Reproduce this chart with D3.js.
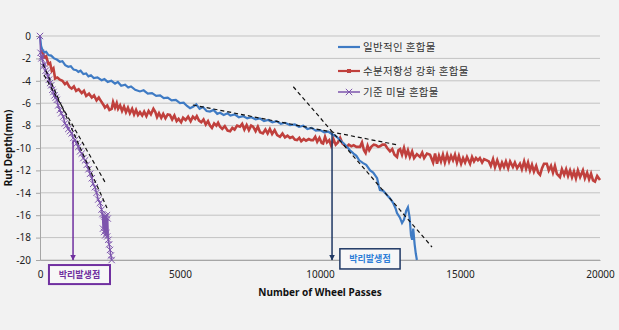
<!DOCTYPE html>
<html>
<head>
<meta charset="utf-8">
<script src="https://cdn.jsdelivr.net/npm/d3@7"></script>
<style>
  html, body { margin: 0; padding: 0; background: #f2f2f2; }
  svg { display: block; }
  text { font-family: "Noto Sans", "Noto Sans CJK KR", sans-serif; }
</style>
</head>
<body>
<svg id="chart" width="619" height="330"></svg>
<script>
// ---------- data ----------
const xTicks = [0, 5000, 10000, 15000, 20000];
const yTicks = [0, -2, -4, -6, -8, -10, -12, -14, -16, -18, -20];
const seriesNames = ["일반적인 혼합물", "수분저항성 강화 혼합물", "기준 미달 혼합물"];
const xTitle = "Number of Wheel Passes";
const yTitle = "Rut Depth(mm)";
const annotationLabel = "박리발생점";

// 일반적인 혼합물 [passes, mm]
const generalMix = [
[0,0],[40,-0.9],[80,-1.2],[150,-1.45],[220,-1.4],[300,-1.7],[400,-1.75],[500,-2.0],[600,-2.1],[710,-2.3],
[800,-2.25],[900,-2.6],[1010,-2.75],[1100,-2.7],[1200,-3.0],[1300,-3.05],[1370,-3.2],[1450,-3.1],[1550,-3.4],[1650,-3.35],
[1730,-3.6],[1820,-3.5],[1920,-3.75],[2050,-3.7],[2200,-3.95],[2300,-3.85],[2420,-4.1],[2550,-4.0],[2680,-4.25],[2780,-4.1],
[2900,-4.45],[3040,-4.35],[3150,-4.6],[3250,-4.5],[3400,-4.8],[3570,-4.95],[3700,-4.85],[3850,-5.15],[4000,-5.1],[4150,-5.35],
[4290,-5.3],[4420,-5.55],[4560,-5.5],[4700,-5.75],[4850,-5.7],[5000,-6.0],[5130,-5.95],[5250,-6.25],[5360,-6.45],[5480,-6.3],
[5580,-6.1],[5700,-6.5],[5820,-6.35],[5950,-6.7],[6070,-6.75],[6200,-6.6],[6330,-6.95],[6430,-6.85],[6560,-7.05],[6700,-6.9],
[6800,-7.1],[6950,-7.0],[7100,-7.25],[7250,-7.15],[7400,-7.35],[7550,-7.25],[7700,-7.45],[7850,-7.35],[8000,-7.6],[8150,-7.5],
[8300,-7.7],[8450,-7.6],[8600,-7.85],[8750,-7.75],[8930,-7.95],[9100,-7.9],[9250,-8.1],[9400,-8.0],[9550,-8.3],[9700,-8.2],
[9850,-8.45],[10000,-8.4],[10150,-8.6],[10300,-8.55],[10450,-8.8],[10600,-9.0],[10710,-9.3],[10850,-9.6],[11000,-10.0],[11070,-10.2],
[11200,-10.5],[11300,-10.7],[11400,-11.1],[11540,-11.35],[11650,-11.5],[11790,-12.0],[11900,-12.2],[12040,-12.7],[12100,-13.4],[12140,-13.75],
[12250,-13.8],[12390,-14.2],[12500,-14.5],[12610,-14.9],[12700,-15.4],[12750,-15.8],[12850,-16.2],[12930,-16.7],[13000,-16.4],[13080,-15.6],
[13140,-15.3],[13200,-16.2],[13250,-17.8],[13290,-18.2],[13330,-17.2],[13380,-18.6],[13420,-19.4],[13460,-20]
];

// 수분저항성 강화 혼합물 [passes, mm]
const moistureMix = [
[30,-1.3],[100,-1.5],[150,-1.9],[220,-1.8],[300,-2.5],[360,-2.4],[420,-3.1],[480,-2.9],[540,-3.8],[620,-3.7],
[710,-3.9],[800,-4.0],[890,-4.3],[960,-4.15],[1050,-4.55],[1130,-4.7],[1210,-4.5],[1290,-4.9],[1380,-4.75],[1490,-5.1],
[1570,-4.9],[1650,-5.35],[1750,-5.15],[1850,-5.5],[1930,-5.3],[2020,-5.75],[2100,-5.5],[2200,-5.9],[2280,-6.2],[2320,-6.4],
[2400,-6.2],[2480,-6.6],[2560,-6.5],[2610,-5.9],[2680,-6.4],[2740,-6.0],[2790,-6.5],[2860,-6.2],[2930,-6.7],[3000,-6.3],
[3070,-6.8],[3140,-6.4],[3210,-6.9],[3290,-6.5],[3360,-7.0],[3430,-6.6],[3500,-7.05],[3570,-6.8],[3650,-7.1],[3720,-6.75],
[3800,-7.15],[3880,-6.7],[3960,-7.0],[4050,-6.5],[4120,-6.8],[4180,-7.25],[4250,-6.9],[4330,-7.3],[4400,-6.95],[4480,-7.35],
[4560,-7.0],[4640,-7.05],[4720,-7.45],[4800,-7.1],[4880,-7.6],[4950,-7.4],[5040,-7.7],[5110,-7.3],[5200,-7.5],[5290,-7.2],
[5380,-7.6],[5460,-7.2],[5540,-7.4],[5600,-7.15],[5680,-7.55],[5760,-7.7],[5840,-7.45],[5920,-7.9],[6000,-7.6],[6070,-8.0],
[6140,-8.2],[6220,-7.8],[6300,-8.0],[6360,-7.75],[6430,-8.1],[6510,-8.3],[6600,-8.05],[6700,-8.45],[6790,-8.5],[6870,-8.2],
[6950,-8.35],[7040,-8.0],[7140,-8.1],[7220,-7.85],[7300,-8.35],[7380,-7.95],[7460,-8.4],[7540,-8.0],[7610,-8.1],[7700,-8.5],
[7780,-8.1],[7860,-8.6],[7960,-8.7],[8050,-8.35],[8130,-8.7],[8210,-8.3],[8290,-8.75],[8380,-8.4],[8470,-8.85],[8570,-9.0],
[8660,-8.7],[8750,-9.05],[8840,-8.9],[8930,-9.1],[9020,-9.0],[9100,-9.25],[9180,-9.3],[9260,-9.1],[9330,-9.4],[9420,-9.2],
[9500,-9.35],[9600,-9.2],[9680,-9.3],[9750,-9.3],[9830,-9.0],[9900,-9.45],[9980,-9.1],[10060,-9.55],[10110,-9.6],[10180,-9.0],
[10250,-9.5],[10330,-9.3],[10400,-9.8],[10480,-9.2],[10560,-9.7],[10640,-9.5],[10720,-9.1],[10800,-9.6],[10880,-9.75],[10950,-9.9],
[11030,-9.7],[11120,-9.85],[11200,-9.75],[11300,-9.9],[11430,-9.9],[11500,-9.5],[11570,-10.2],[11630,-10.45],[11700,-9.8],[11760,-10.2],
[11830,-9.9],[11920,-9.7],[12000,-9.75],[12080,-9.9],[12140,-9.85],[12230,-9.7],[12320,-9.7],[12400,-10.0],[12500,-10.3],[12580,-10.1],
[12660,-10.6],[12750,-10.8],[12800,-10.2],[12860,-10.1],[12930,-10.6],[13000,-10.0],[13070,-10.7],[13140,-10.2],[13210,-10.8],[13290,-10.3],
[13360,-10.9],[13460,-10.55],[13570,-10.8],[13650,-10.4],[13720,-10.9],[13820,-10.5],[13930,-10.6],[14040,-11.3],[14110,-10.5],[14180,-11.4],
[14250,-10.7],[14320,-11.2],[14390,-10.6],[14460,-11.3],[14540,-10.6],[14610,-11.2],[14680,-10.7],[14750,-11.1],[14820,-10.6],[14890,-11.3],
[14960,-10.7],[15040,-11.4],[15110,-10.9],[15180,-11.3],[15250,-10.8],[15360,-11.4],[15430,-10.8],[15500,-11.2],[15570,-10.9],[15640,-11.1],
[15710,-10.9],[15790,-11.3],[15860,-11.0],[15960,-11.1],[16030,-11.2],[16100,-11.6],[16180,-11.0],[16250,-11.7],[16330,-11.1],[16430,-11.8],
[16500,-11.3],[16570,-11.7],[16640,-11.2],[16720,-11.8],[16790,-11.2],[16890,-11.7],[16960,-11.3],[17040,-11.8],[17140,-11.4],[17210,-11.9],
[17290,-11.2],[17360,-11.85],[17430,-11.3],[17500,-12.0],[17570,-11.5],[17640,-12.1],[17720,-11.6],[17790,-12.2],[17860,-12.4],[17930,-11.8],
[18000,-11.4],[18100,-11.4],[18170,-12.0],[18250,-11.6],[18320,-12.2],[18390,-11.6],[18460,-12.3],[18570,-12.6],[18640,-11.9],[18720,-12.4],
[18790,-11.9],[18860,-12.5],[18930,-12.0],[19000,-12.6],[19070,-12.1],[19140,-12.7],[19210,-12.0],[19290,-12.6],[19390,-12.0],[19460,-12.7],
[19540,-12.2],[19610,-12.8],[19680,-12.3],[19750,-12.9],[19820,-13.0],[19900,-12.5],[20000,-12.85]
];

// 기준 미달 혼합물 [passes, mm]
const substandardMix = [
[0,0],[20,-1.5],[50,-2.0],[80,-1.8],[120,-2.7],[160,-2.5],[200,-3.1],[240,-3.3],[280,-3.6],[320,-3.9],
[360,-4.2],[400,-4.4],[440,-4.8],[480,-5.0],[520,-5.3],[560,-5.5],[600,-5.7],[650,-6.2],[710,-6.6],[760,-6.9],
[830,-7.2],[890,-7.8],[950,-8.0],[1010,-8.3],[1070,-8.5],[1130,-8.7],[1190,-9.1],[1250,-9.3],[1310,-9.6],[1370,-9.9],
[1430,-10.3],[1490,-10.5],[1550,-10.9],[1610,-11.1],[1670,-11.5],[1730,-11.9],[1790,-12.3],[1850,-12.7],[1900,-13.2],[1960,-13.5],
[2020,-14.0],[2080,-14.6],[2140,-14.9],[2200,-15.5],[2230,-15.9],[2250,-17.2],[2270,-16.0],[2290,-17.5],[2310,-16.1],[2330,-17.8],
[2350,-16.2],[2370,-17.6],[2390,-16.0],[2400,-17.9],[2420,-16.3],[2440,-18.2],[2470,-18.6],[2500,-19.1],[2530,-19.6],[2560,-20]
];

// dashed trend lines [[x1,y1],[x2,y2]]
const trendLines = [
  [[5460,-6.16],[12790,-9.73]],
  [[9046,-4.53],[14000,-18.84]],
  [[107,-2.5],[2393,-15.36]],
  [[143,-3.48],[2321,-13.04]]
];

// stripping-point annotations: arrow x, arrow start y, label box x-range
const stripPoints = [
  { x: 1180, yFrom: -9.3, boxX: [320, 2500], boxTop: -20.45, boxBottom: -22.15, stroke: "#7030a0", text: "#7030a0", width: 2 },
  { x: 10430, yFrom: -8.66, boxX: [10710, 12860], boxTop: -19.0, boxBottom: -20.8, stroke: "#1f3864", text: "#2f7fd8", width: 1.5 }
];

const colors = ["#3f7bc4", "#c0403d", "#7d55ad"];

// ---------- chart ----------
const svg = d3.select("#chart");
const x = d3.scaleLinear().domain([0, 20000]).range([40, 600]);
const y = d3.scaleLinear().domain([-20, 0]).range([260, 36]);

// gridlines
svg.append("g").selectAll("line").data(yTicks).join("line")
  .attr("x1", x(0)).attr("x2", x(20000))
  .attr("y1", d => y(d)).attr("y2", d => y(d))
  .attr("stroke", "#c3c3c3").attr("stroke-width", 1);

// axes
const yAxis = svg.append("g").attr("transform", `translate(${x(0)},0)`)
  .call(d3.axisLeft(y).tickValues(yTicks).tickFormat(d => String(d)).tickSize(4).tickPadding(5));
const xAxis = svg.append("g").attr("transform", `translate(0,${y(-20)})`)
  .call(d3.axisBottom(x).tickValues(xTicks).tickFormat(d => String(d)).tickSize(0).tickPadding(11));
[yAxis, xAxis].forEach(g => {
  g.select(".domain").attr("stroke", "#a6a6a6");
  g.selectAll(".tick line").attr("stroke", "#a6a6a6");
  g.selectAll("text").attr("font-size", 10).attr("fill", "#222");
});

// titles
svg.append("text").attr("x", 320).attr("y", 296).attr("text-anchor", "middle")
  .attr("font-size", 10).attr("font-weight", "bold").attr("fill", "#111").text(xTitle);
svg.append("text").attr("transform", `translate(12,148) rotate(-90)`).attr("text-anchor", "middle")
  .attr("font-size", 10).attr("font-weight", "bold").attr("fill", "#111").text(yTitle);

const line = d3.line().x(d => x(d[0])).y(d => y(d[1]));

// series
svg.append("path").datum(moistureMix).attr("d", line).attr("fill", "none")
  .attr("stroke", colors[1]).attr("stroke-width", 2.6).attr("stroke-linejoin", "miter");
svg.append("path").datum(generalMix).attr("d", line).attr("fill", "none")
  .attr("stroke", colors[0]).attr("stroke-width", 2.2);
svg.append("path").datum(substandardMix).attr("d", line).attr("fill", "none")
  .attr("stroke", colors[2]).attr("stroke-width", 1.5);
const cross = d3.symbol().type(d3.symbolX).size(28);
svg.append("g").selectAll("path").data(substandardMix).join("path")
  .attr("transform", d => `translate(${x(d[0])},${y(d[1])})`)
  .attr("d", cross).attr("fill", "none").attr("stroke", colors[2]).attr("stroke-width", 1);

// trend lines
svg.append("g").selectAll("line").data(trendLines).join("line")
  .attr("x1", d => x(d[0][0])).attr("y1", d => y(d[0][1]))
  .attr("x2", d => x(d[1][0])).attr("y2", d => y(d[1][1]))
  .attr("stroke", "#111").attr("stroke-width", 1.2).attr("stroke-dasharray", "4,3");

// arrows + boxes
const defs = svg.append("defs");
stripPoints.forEach((p, i) => {
  defs.append("marker").attr("id", "ah" + i).attr("viewBox", "0 0 10 10")
    .attr("refX", 9).attr("refY", 5).attr("markerWidth", 6).attr("markerHeight", 6)
    .attr("markerUnits", "userSpaceOnUse").attr("orient", "auto")
    .append("path").attr("d", "M0,0L10,5L0,10Z").attr("fill", p.stroke);
});
const ann = svg.append("g").selectAll("g").data(stripPoints).join("g");
ann.append("line")
  .attr("x1", d => x(d.x)).attr("x2", d => x(d.x))
  .attr("y1", d => y(d.yFrom)).attr("y2", y(-20))
  .attr("stroke", d => d.stroke).attr("stroke-width", 1.5)
  .attr("marker-end", (d, i) => `url(#ah${i})`);
ann.append("rect")
  .attr("x", d => x(d.boxX[0])).attr("width", d => x(d.boxX[1]) - x(d.boxX[0]))
  .attr("y", d => y(d.boxTop)).attr("height", d => y(d.boxBottom) - y(d.boxTop))
  .attr("fill", "#f7f7f7").attr("stroke", d => d.stroke).attr("stroke-width", d => d.width);
ann.append("text")
  .attr("x", d => (x(d.boxX[0]) + x(d.boxX[1])) / 2)
  .attr("y", d => (y(d.boxTop) + y(d.boxBottom)) / 2)
  .attr("dy", "0.35em").attr("text-anchor", "middle")
  .attr("font-size", 9).attr("font-weight", "bold")
  .attr("font-family", "'Noto Sans CJK KR', sans-serif")
  .attr("fill", d => d.text).text(annotationLabel);

// legend
const legend = svg.append("g").attr("transform", "translate(338,47)");
const li = legend.selectAll("g").data(seriesNames).join("g")
  .attr("transform", (d, i) => `translate(0,${[0, 24, 45][i]})`);
li.append("line").attr("x1", 0).attr("x2", 22).attr("y1", 0).attr("y2", 0)
  .attr("stroke", (d, i) => colors[i]).attr("stroke-width", (d, i) => i === 2 ? 1.5 : 2.2);
li.filter((d, i) => i === 1).append("rect").attr("x", 9).attr("y", -2).attr("width", 4).attr("height", 4)
  .attr("fill", colors[1]);
li.filter((d, i) => i === 2).append("path").attr("transform", "translate(11,0)")
  .attr("d", cross).attr("fill", "none").attr("stroke", colors[2]).attr("stroke-width", 1);
li.append("text").attr("x", 25).attr("y", 0).attr("dy", "0.35em")
  .attr("font-size", 10.5).attr("letter-spacing", "0.3px").attr("fill", "#333")
  .attr("font-family", "'Noto Sans CJK KR', sans-serif").text(d => d);
</script>
</body>
</html>
